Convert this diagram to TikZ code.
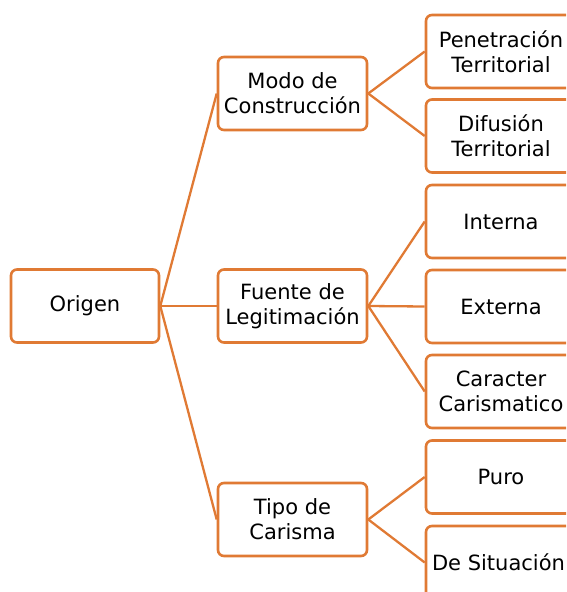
\documentclass[tikz,border=0pt]{standalone}
\usepackage{fontspec}
\setmainfont{DejaVu Sans}
\definecolor{org}{RGB}{224,122,52}
\begin{document}
\begin{tikzpicture}[x=1pt,y=-1pt,
 box/.style={draw=org, line width=2.6pt, rounded corners=6pt, fill=white, minimum width=149pt, minimum height=73pt, inner sep=0pt, align=center, font=\fontsize{21}{25}\selectfont},
 link/.style={draw=org, line width=2.3pt}]
\useasboundingbox (0,0) rectangle (566,592);
\clip (0,0) rectangle (566,592);
\node[box, minimum width=148pt] (o) at (85,306) {Origen};
\node[box] (m) at (292.5,93.5) {Modo de\\Construcción};
\node[box] (f) at (292.5,306) {Fuente de\\Legitimación};
\node[box] (t) at (292.5,519.5) {Tipo de\\Carisma};
\node[box, minimum width=150pt] (p) at (501,51.5) {Penetración\\Territorial};
\node[box, minimum width=150pt] (d) at (501,136) {Difusión\\Territorial};
\node[box, minimum width=150pt] (i) at (501,221.5) {Interna};
\node[box, minimum width=150pt] (e) at (501,306.5) {Externa};
\node[box, minimum width=150pt] (c) at (501,391.5) {Caracter\\Carismatico};
\node[box, minimum width=150pt] (pu) at (501,477) {Puro};
\node[box, minimum width=150pt] (s) at (501,562.5) {De Situación\hspace*{5pt}};
\draw[link] (o.east) -- (m.west);
\draw[link] (o.east) -- (f.west);
\draw[link] (o.east) -- (t.west);
\draw[link] (m.east) -- (p.west);
\draw[link] (m.east) -- (d.west);
\draw[link] (f.east) -- (i.west);
\draw[link] (f.east) -- (e.west);
\draw[link] (f.east) -- (c.west);
\draw[link] (t.east) -- (pu.west);
\draw[link] (t.east) -- (s.west);
\end{tikzpicture}
\end{document}
